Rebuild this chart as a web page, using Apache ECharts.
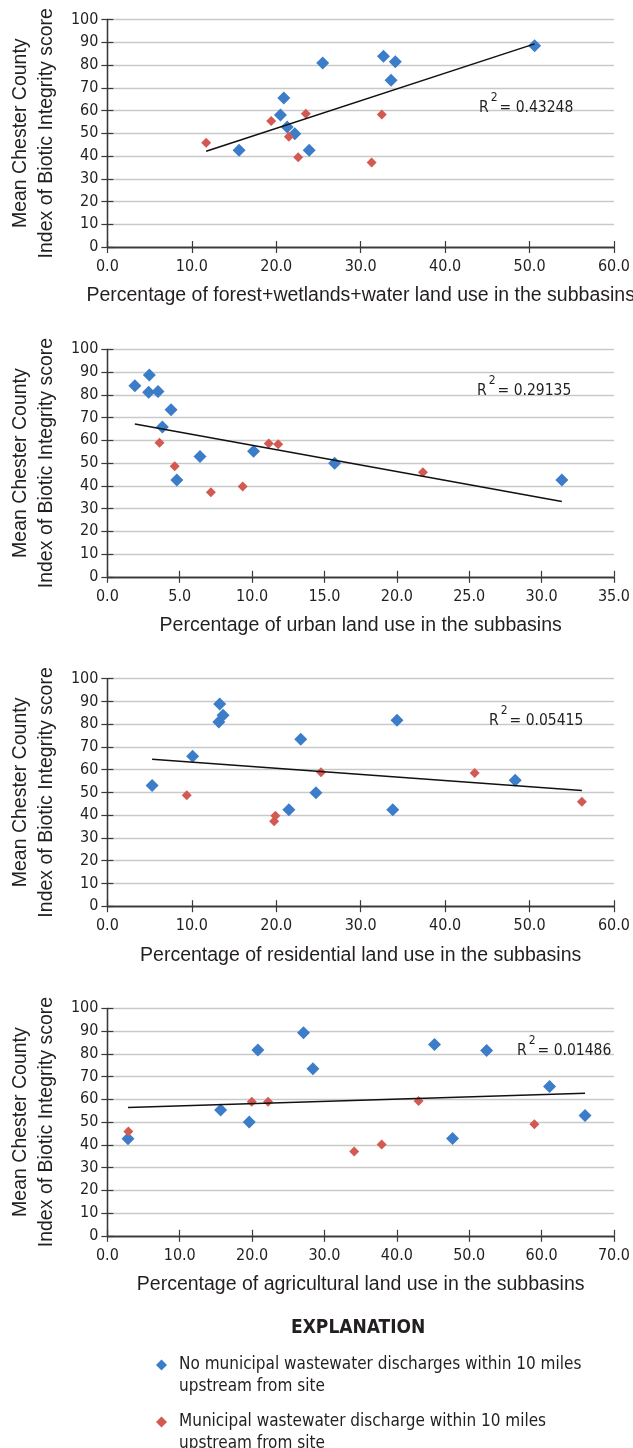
<!DOCTYPE html>
<html>
<head>
<meta charset="utf-8">
<script src="https://cdn.jsdelivr.net/npm/echarts@6/dist/echarts.min.js"></script>
<style>
html, body { margin: 0; padding: 0; background: #fff; }
#main { width: 633px; height: 1448px; }
</style>
</head>
<body>
<div id="main"></div>
<script>
// values: [percent land use, mean IBI score]
var forestBlue = [[15.6,42.5],[20.5,58.0],[20.9,65.5],[21.3,52.8],[22.2,49.8],[23.9,42.5],[25.5,80.9],[32.7,83.8],[34.1,81.4],[33.6,73.3],[50.6,88.5]];
var forestRed = [[11.7,45.8],[19.4,55.4],[21.5,48.5],[22.6,39.5],[23.5,58.6],[31.3,37.1],[32.5,58.2]];
var forestTrend = [[11.7,42.1],[50.6,89.3]];

var urbanBlue = [[1.9,84.0],[2.9,88.7],[2.85,81.1],[3.5,81.5],[4.4,73.4],[3.8,65.9],[4.8,42.5],[6.4,52.9],[10.1,55.2],[15.7,49.9],[31.4,42.5]];
var urbanRed = [[3.6,58.9],[4.65,48.6],[7.15,37.2],[9.35,39.7],[11.15,58.6],[11.8,58.3],[21.8,46.0]];
var urbanTrend = [[1.9,67.2],[31.4,33.1]];

var residBlue = [[5.3,53.1],[10.1,65.9],[13.3,88.9],[13.7,83.9],[13.2,81.0],[21.5,42.4],[22.9,73.4],[24.7,49.9],[33.8,42.4],[34.3,81.7],[48.3,55.4]];
var residRed = [[9.4,48.8],[19.9,39.8],[19.75,37.3],[25.3,58.9],[43.5,58.6],[56.2,45.9]];
var residTrend = [[5.3,64.6],[56.2,50.9]];

var agriBlue = [[2.85,42.7],[15.65,55.3],[19.6,50.0],[20.8,81.7],[27.1,89.2],[28.4,73.4],[45.2,84.1],[47.7,42.8],[52.4,81.4],[61.1,65.6],[66.0,52.9]];
var agriRed = [[2.9,45.9],[19.95,58.9],[22.2,58.9],[34.1,37.1],[37.9,40.1],[43.0,59.2],[59.0,49.0]];
var agriTrend = [[2.85,56.4],[66.0,62.7]];

var xTitles = [
  'Percentage of forest+wetlands+water land use in the subbasins',
  'Percentage of urban land use in the subbasins',
  'Percentage of residential land use in the subbasins',
  'Percentage of agricultural land use in the subbasins'
];
var xMax = [60, 35, 60, 70];
var xStep = [10, 5, 10, 10];
var r2Values = ['0.43248', '0.29135', '0.05415', '0.01486'];
var yTitle = 'Mean Chester County\nIndex of Biotic Integrity score';
var legendNames = [
  'No municipal wastewater discharges within 10 miles\nupstream from site',
  'Municipal wastewater discharge within 10 miles\nupstream from site'
];

var blueData = [forestBlue, urbanBlue, residBlue, agriBlue];
var redData = [forestRed, urbanRed, residRed, agriRed];
var trendData = [forestTrend, urbanTrend, residTrend, agriTrend];

var BLUE = '#3b7dc8', RED = '#d25a52', INK = '#231f20', FRAME = '#3a3a3a';
var NARROW = "'DejaVu Sans Condensed', Roboto, sans-serif";
var WIDE = "'Liberation Sans', Arial, sans-serif";
var gridTops = [19.5, 349.3, 678.7, 1008.3];
var r2Left = [479, 477, 489, 517];
var r2Top = [92, 375, 705, 1035];

var grids = [], xAxes = [], yAxes = [], series = [], titles = [];

for (var i = 0; i < 4; i++) {
  grids.push({ left: 99, top: gridTops[i], width: 520, height: 227.5 });

  var tick = { show: true, inside: true, length: 6, lineStyle: { color: FRAME, width: 1.2 } };
  var line = { show: true, lineStyle: { color: FRAME, width: 1.3 } };

  xAxes.push({
    gridIndex: i, type: 'value', position: 'bottom', min: 0, max: xMax[i], interval: xStep[i],
    axisLine: line, axisTick: tick, splitLine: { show: false },
    axisLabel: {
      margin: 12, color: INK, fontFamily: NARROW, fontSize: 16,
      formatter: function (v) { return v.toFixed(1); }
    },
    name: xTitles[i], nameLocation: 'middle', nameGap: 39,
    nameTextStyle: { color: INK, fontFamily: WIDE, fontSize: 19.5 }
  });
  xAxes.push({
    gridIndex: i, type: 'value', position: 'top', min: 0, max: xMax[i], interval: xStep[i],
    axisLine: line, axisTick: tick, axisLabel: { show: false }, splitLine: { show: false }
  });

  yAxes.push({
    gridIndex: i, type: 'value', position: 'left', min: 0, max: 100, interval: 10,
    axisLine: line, axisTick: tick,
    splitLine: { show: true, lineStyle: { color: '#c9c9c9', width: 1.3 } },
    axisLabel: { margin: 9, color: INK, fontFamily: NARROW, fontSize: 16 },
    name: yTitle, nameLocation: 'middle', nameGap: 33,
    nameTextStyle: { color: INK, fontFamily: WIDE, fontSize: 19.5, lineHeight: 26 }
  });
  yAxes.push({
    gridIndex: i, type: 'value', position: 'right', min: 0, max: 100, interval: 10,
    axisLine: line, axisTick: tick, axisLabel: { show: false }, splitLine: { show: false }
  });

  series.push({
    name: legendNames[0], type: 'scatter', xAxisIndex: 2 * i, yAxisIndex: 2 * i,
    symbol: 'diamond', symbolSize: 13, itemStyle: { color: BLUE, opacity: 1 },
    data: blueData[i], z: 3
  });
  series.push({
    name: legendNames[1], type: 'scatter', xAxisIndex: 2 * i, yAxisIndex: 2 * i,
    symbol: 'diamond', symbolSize: 10, itemStyle: { color: RED, opacity: 1 },
    data: redData[i], z: 3
  });
  series.push({
    name: 'trend' + i, type: 'line', xAxisIndex: 2 * i, yAxisIndex: 2 * i,
    showSymbol: false, symbol: 'none', silent: true,
    lineStyle: { color: '#111', width: 1.5 }, data: trendData[i], z: 4
  });

  titles.push({
    left: r2Left[i], top: r2Top[i], padding: 0,
    text: '{r|R}{s|2}{r|= ' + r2Values[i] + '}',
    textStyle: {
      rich: {
        r: { fontFamily: NARROW, fontWeight: 'normal', fontSize: 15.5, color: INK, lineHeight: 24, verticalAlign: 'bottom' },
        s: { fontFamily: NARROW, fontWeight: 'normal', fontSize: 12, color: INK, lineHeight: 8, verticalAlign: 'top', padding: [0, 2, 0, 2] }
      }
    }
  });
}

titles.push({
  text: 'EXPLANATION', left: 291, top: 1319, padding: 0,
  textStyle: { fontFamily: NARROW, fontWeight: 'bold', fontSize: 19, color: INK }
});

// icon sits at the middle of the text block, so a blank first line puts it beside line one
var legendTops = [1332, 1389];
var legends = legendNames.map(function (n, k) {
  return {
    data: [n], orient: 'vertical', left: 156, top: legendTops[k], padding: 0,
    itemWidth: 11, itemHeight: 11, icon: 'diamond', selectedMode: false,
    formatter: function (name) { return '\n' + name; },
    textStyle: { fontFamily: NARROW, fontSize: 17, color: INK, lineHeight: 22, padding: [0, 0, 0, 7] }
  };
});

var option = {
  animation: false,
  backgroundColor: '#fff',
  title: titles,
  grid: grids,
  xAxis: xAxes,
  yAxis: yAxes,
  legend: legends,
  series: series
};

var chart = echarts.init(document.getElementById('main'));
chart.setOption(option);
</script>
</body>
</html>
